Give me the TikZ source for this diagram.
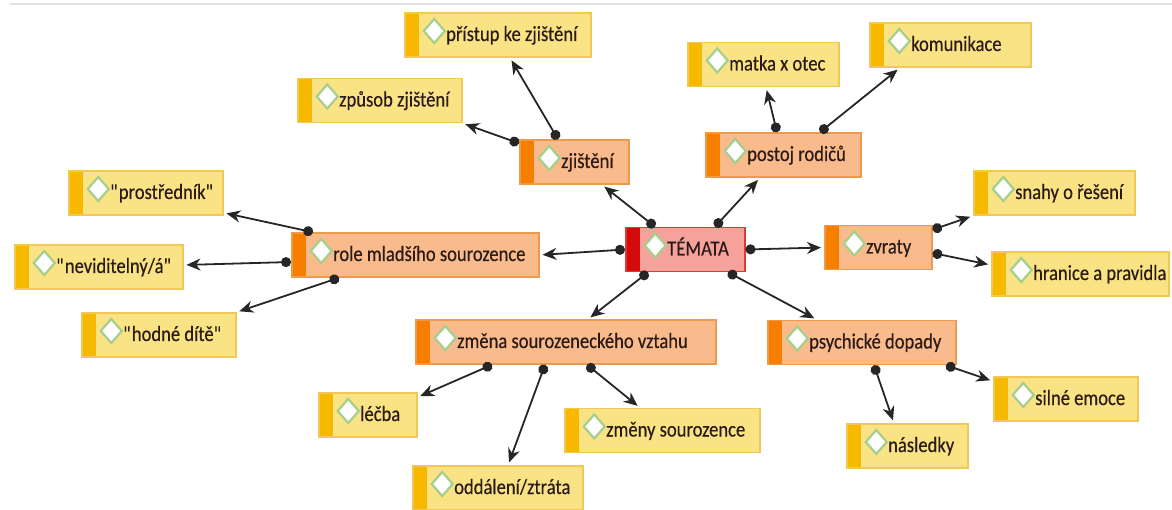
\documentclass[tikz,border=0pt]{standalone}
\usepackage{fontspec}
\setmainfont{Carlito}
\newfontfamily\uzelfont{Carlito}[FakeBold=0.4,FakeStretch=0.86]
\usetikzlibrary{arrows.meta}

\definecolor{redline}{HTML}{DE3A32}
\definecolor{redfill}{HTML}{F6A29C}
\definecolor{redbar}{HTML}{D60A0A}
\definecolor{oraline}{HTML}{EE9A4C}
\definecolor{orafill}{HTML}{F9BA8C}
\definecolor{orabar}{HTML}{F77F00}
\definecolor{yelline}{HTML}{EFC857}
\definecolor{yelfill}{HTML}{FAE384}
\definecolor{yelbar}{HTML}{F6B900}
\definecolor{diacol}{HTML}{A6CF8B}
\definecolor{txtcol}{HTML}{2B1B17}

\tikzset{
  box/.style={rectangle, draw=#1line, fill=#1fill, line width=1.5pt,
    minimum height=44pt, inner sep=0pt, anchor=west,
    path picture={
      \fill[#1bar] (path picture bounding box.north west) rectangle
        ([xshift=14pt]path picture bounding box.south west);
      \draw[diacol, fill=white, line width=2.2pt]
        ([xshift=19pt,yshift=4pt]path picture bounding box.west)
        -- ++(10.5pt,12pt) -- ++(10.5pt,-12pt) -- ++(-10.5pt,-12pt) -- cycle;
    }},
  hlavni/.style={box=red},
  ora/.style={box=ora},
  zlu/.style={box=yel},
  txt/.style={anchor=base west, xshift=42pt, yshift=-6pt, inner sep=0pt,
    text=txtcol, font=\uzelfont\fontsize{21.6}{26}\selectfont},
  link/.style={{Circle[length=10pt]}-{Stealth[length=14pt,width=12pt]},
    line width=1.8pt, shorten >=3pt, draw=black!85}
}

\begin{document}
\begin{tikzpicture}[x=1pt,y=-1pt]
\useasboundingbox (0,0) rectangle (1172,510);
\draw[black!12, line width=2pt] (10,4) -- (1172,4);

% stred
\node[hlavni, minimum width=119pt, label={[txt]west:TÉMATA}] (temata) at (625,249.5) {};

% hlavni temata
\node[ora, minimum width=247pt, label={[txt]west:role mladšího sourozence}] (role) at (291,255) {};
\node[ora, minimum width=109pt, label={[txt]west:zjištění}] (zjisteni) at (519,162) {};
\node[ora, minimum width=155pt, label={[txt]west:postoj rodičů}] (postoj) at (705,155) {};
\node[ora, minimum width=107pt, label={[txt]west:zvraty}] (zvraty) at (824,247.5) {};
\node[ora, minimum width=300pt, label={[txt]west:změna sourozeneckého vztahu}] (zmena) at (415,342) {};
\node[ora, minimum width=188pt, label={[txt]west:psychické dopady}] (psych) at (767,342.5) {};

% podtemata
\node[zlu, minimum width=154pt, label={[txt]west:\textquotedbl prostředník\textquotedbl}] (prostr) at (68,193) {};
\node[zlu, minimum width=168pt, label={[txt]west:\textquotedbl neviditelný/á\textquotedbl}] (nevid) at (14,267) {};
\node[zlu, minimum width=154pt, label={[txt]west:\textquotedbl hodné dítě\textquotedbl}] (hodne) at (81,335) {};
\node[zlu, minimum width=164pt, label={[txt]west:způsob zjištění}] (zpusob) at (297,100.5) {};
\node[zlu, minimum width=186pt, label={[txt]west:přístup ke zjištění}] (pristup) at (404,35) {};
\node[zlu, minimum width=151pt, label={[txt]west:matka x otec}] (matka) at (687,64.5) {};
\node[zlu, minimum width=161pt, label={[txt]west:komunikace}] (komun) at (869,45) {};
\node[zlu, minimum width=161pt, label={[txt]west:snahy o řešení}] (snahy) at (973,193) {};
\node[zlu, minimum width=177pt, label={[txt]west:hranice a pravidla}] (hranice) at (991,274) {};
\node[zlu, minimum width=98pt, label={[txt]west:léčba}] (lecba) at (318,415) {};
\node[zlu, minimum width=195pt, label={[txt]west:změny sourozence}] (zmeny) at (564,430.5) {};
\node[zlu, minimum width=170pt, label={[txt]west:oddálení/ztráta}] (oddal) at (412,488) {};
\node[zlu, minimum width=121pt, label={[txt]west:následky}] (nasled) at (846,446) {};
\node[zlu, minimum width=144pt, label={[txt]west:silné emoce}] (silne) at (993,399) {};

% spojnice
\draw[link] (temata.west) -- (role.east);
\draw[link] ([xshift=30pt]temata.north west) -- ([xshift=83pt]zjisteni.south west);
\draw[link] ([xshift=90pt]temata.north west) -- ([xshift=55pt]postoj.south west);
\draw[link] (temata.east) -- (zvraty.west);
\draw[link] ([xshift=23pt]temata.south west) -- ([xshift=173pt]zmena.north west);
\draw[link] ([xshift=103pt]temata.south west) -- ([xshift=50pt]psych.north west);

\draw[link] ([xshift=22pt]role.north west) -- ([yshift=3pt]prostr.south east);
\draw[link] ([yshift=-7pt]role.west) -- ([yshift=2pt]nevid.east);
\draw[link] ([xshift=48pt]role.south west) -- (hodne.north east);

\draw[link] ([yshift=-4pt]zjisteni.north west) -- (zpusob.south east);
\draw[link] ([xshift=39pt]zjisteni.north west) -- ([xshift=106pt]pristup.south west);

\draw[link] ([xshift=72pt]postoj.north west) -- ([xshift=79pt]matka.south west);
\draw[link] ([xshift=115pt]postoj.north west) -- ([xshift=31pt]komun.south west);

\draw[link] ([yshift=-5pt]zvraty.north east) -- (snahy.south west);
\draw[link] ([yshift=-5.5pt]zvraty.east) -- ([yshift=9pt]hranice.west);

\draw[link] ([xshift=77pt]zmena.south west) -- ([yshift=-5pt]lecba.north east);
\draw[link] ([xshift=130pt]zmena.south west) -- ([xshift=96pt]oddal.north west);
\draw[link] ([xshift=172pt]zmena.south west) -- ([xshift=76pt]zmeny.north west);

\draw[link] ([xshift=107pt]psych.south west) -- ([xshift=48pt]nasled.north west);
\draw[link] ([xshift=179pt]psych.south west) -- ([yshift=-5pt]silne.north west);
\end{tikzpicture}
\end{document}
